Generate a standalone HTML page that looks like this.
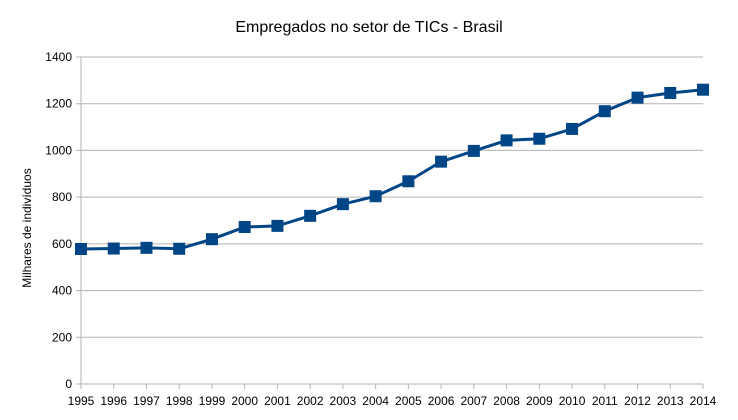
<!DOCTYPE html>
<html><head><meta charset="utf-8"><style>
body{margin:0;background:#fff;font-family:"Liberation Sans",sans-serif}
</style></head><body>
<svg id="chart" width="738" height="415" xmlns="http://www.w3.org/2000/svg">
<rect width="738" height="415" fill="#fff"/>
<text x="369" y="32" text-anchor="middle" font-size="16" fill="#000">Empregados no setor de TICs - Brasil</text>
<text transform="translate(31,228) rotate(-90)" text-anchor="middle" font-size="12" fill="#000">Milhares de indivíduos</text>
<g id="grid"></g><g id="axes"></g><g id="series"></g>
</svg>
<script>
const years=[1995,1996,1997,1998,1999,2000,2001,2002,2003,2004,2005,2006,2007,2008,2009,2010,2011,2012,2013,2014];
const employed=[578,580,583,579,620,672,677,720,770,804,868,952,998,1043,1050,1092,1168,1226,1246,1260];
const yTicks=[0,200,400,600,800,1000,1200,1400];
const NS="http://www.w3.org/2000/svg";
const x0=81,x1=703,yb=384,yt=57,ymax=1400;
const xs=i=>x0+(x1-x0)*i/(years.length-1);
const ys=v=>yb-(yb-yt)*v/ymax;
function mk(t,a,p){const e=document.createElementNS(NS,t);for(const k in a)e.setAttribute(k,a[k]);p.appendChild(e);return e;}
const grid=document.getElementById('grid'),axes=document.getElementById('axes'),ser=document.getElementById('series');
yTicks.forEach(v=>{
 const l=mk('line',{x1:x0-5,x2:x1,y1:ys(v),y2:ys(v),stroke:'#b3b3b3','stroke-width':1},grid);
 
 
 const t=mk('text',{x:x0-9,y:ys(v)+4,'text-anchor':'end','font-size':12,fill:'#000'},axes);
 t.textContent=v;
 
 
});
const ax=mk('line',{x1:x0,x2:x0,y1:yt,y2:yb+5,stroke:'#b3b3b3'},axes);


years.forEach((y,i)=>{
 const tk=mk('line',{x1:xs(i),x2:xs(i),y1:yb,y2:yb+5,stroke:'#b3b3b3'},axes);
 
 
 const t=mk('text',{x:xs(i),y:405,'text-anchor':'middle','font-size':12,fill:'#000'},axes);
 t.textContent=y;
 
 
});
const pts=employed.map((v,i)=>xs(i)+','+ys(v)).join(' ');
const pl=mk('polyline',{points:pts,fill:'none',stroke:'#004586','stroke-width':3,'stroke-linejoin':'round'},ser);


employed.forEach((v,i)=>{
 const r=mk('rect',{x:xs(i)-6,y:ys(v)-6,width:12,height:12,fill:'#004586'},ser);
 
 
});
</script>
</body></html>
